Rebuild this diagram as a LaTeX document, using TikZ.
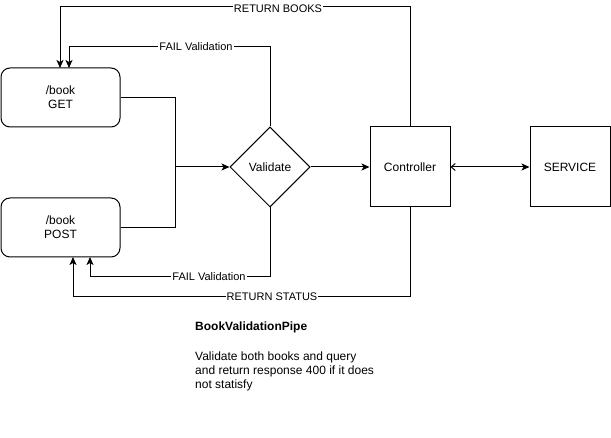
\documentclass[tikz,border=0pt]{standalone}
\usepackage{fontspec}
\setmainfont{Liberation Sans}
\usetikzlibrary{arrows.meta,shapes.geometric}
\begin{document}
\begin{tikzpicture}[x=1pt,y=-1pt,
  every node/.style={font=\fontsize{12}{14}\selectfont},
  rbox/.style={draw,line width=1pt,rounded corners=9pt,minimum width=119pt,minimum height=59pt,align=center,inner sep=0pt},
  sbox/.style={draw,line width=1pt,minimum width=80pt,minimum height=80pt,inner sep=0pt},
  dia/.style={draw,line width=1pt,diamond,minimum width=80pt,minimum height=80pt,inner sep=0pt,aspect=1},
  conn/.style={line width=1pt,-{Stealth[length=8pt,width=7pt,inset=2pt]}},
  elabel/.style={fill=white,inner sep=1pt,font=\fontsize{11}{13}\selectfont}
]
\useasboundingbox (0,0) rectangle (611,438);
\node[rbox] (get) at (60.5,97.5) {/book\\GET};
\node[rbox] (post) at (60.5,227.5) {/book\\POST};
\node[dia] (val) at (270,167) {Validate};
\node[sbox] (ctrl) at (410,167) {Controller};
\node[sbox] (svc) at (570,167) {SERVICE};

\coordinate (j) at (175,167);
\draw[line width=1pt] (get.east) -| (j);
\draw[line width=1pt] (post.east) -| (j);
\draw[conn] (j) -- (val.west);
\draw[conn] (val.east) -- (ctrl.west);
\draw[line width=1pt,{Straight Barb[length=4pt,width=7pt]}-{Stealth[length=8pt,width=7pt,inset=2pt]}] (ctrl.east) -- (svc.west);

% return books
\coordinate (rb1) at (410,7);
\coordinate (rb2) at (60,7);
\draw[conn] (ctrl.north) -- (rb1) -- (rb2) -- (60,68);
\node[elabel] (lrb) at (278,8.5) {RETURN BOOKS};
% fail top
\draw[conn] (val.north) |- (69,47) -- (69,68);
\node[elabel] (lf1) at (196,47) {FAIL Validation};
% fail bottom
\draw[conn] (val.south) |- (90,277) -- (90,257);
\node[elabel] (lf2) at (209,277) {FAIL Validation};
% return status
\draw[conn] (ctrl.south) |- (73,297) -- (73,257);
\node[elabel] (lrs) at (272,297) {RETURN STATUS};

\node[anchor=north west,inner sep=0pt,font=\fontsize{12}{14}\selectfont\bfseries] (t1) at (195,322) {BookValidationPipe};
\node[anchor=north west,inner sep=0pt,align=left,font=\fontsize{12}{14}\selectfont] (t2) at (195,352) {Validate both books and query\\and return response 400 if it does\\not statisfy};
\end{tikzpicture}
\end{document}
